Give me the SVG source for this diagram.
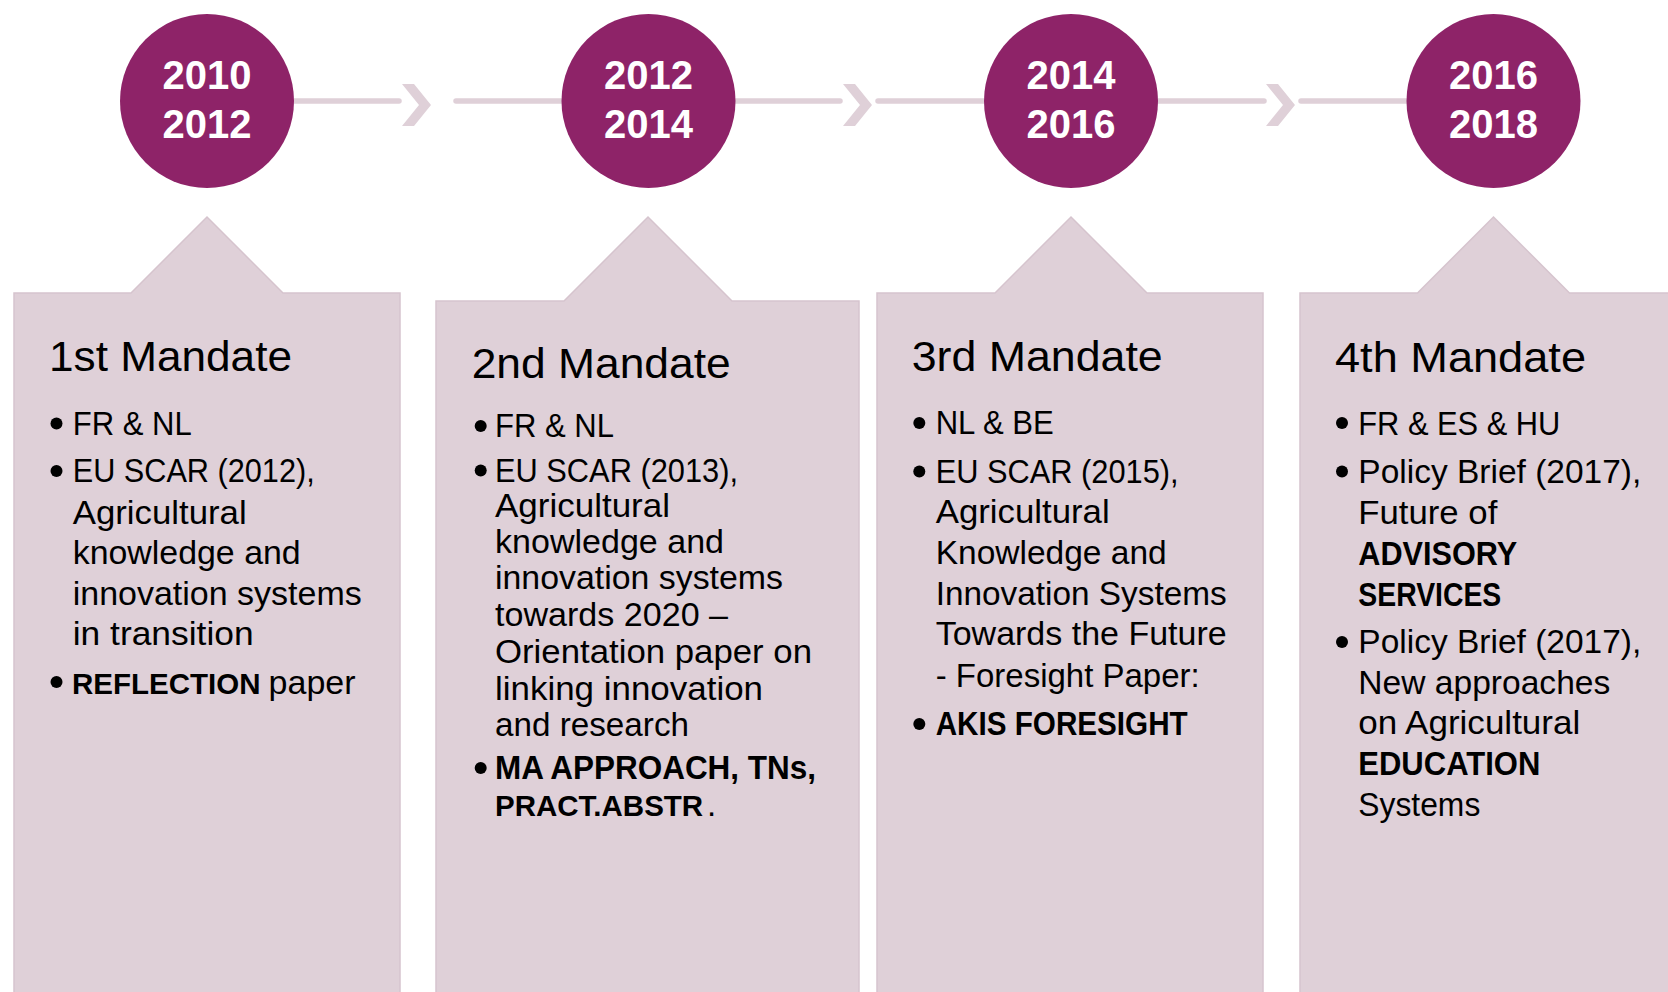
<svg xmlns="http://www.w3.org/2000/svg" width="1668" height="992" viewBox="0 0 1668 992">
  <style>
    .box { fill: #DFD0D8; stroke: #D6C4CE; stroke-width: 1.5; }
    .circle { fill: #8E2368; }
    .year { font-family: "Liberation Sans", Arial, sans-serif; font-weight: bold; font-size: 40px; fill: #FFFFFF; text-anchor: middle; }
    .head { font-family: "Liberation Sans", Arial, sans-serif; font-size: 42px; fill: #000000; }
    .t { font-family: "Liberation Sans", Arial, sans-serif; font-size: 33px; fill: #000000; }
    .b { font-weight: bold; }
    .bs { font-size: 29.5px; }
    .bullet { fill: #000000; }
    .line { stroke: #DFD0D8; stroke-width: 5.5; stroke-linecap: round; fill: none; }
    .chev { fill: #DFD0D8; }
  </style>
  <rect x="0" y="0" width="1668" height="992" fill="#FFFFFF"/>

  <g id="connectors">
    <line class="line" x1="294" y1="101" x2="399" y2="101"/>
    <polygon class="chev" points="402,84 414,84 431,105 414,126 402,126 419,105"/>
    <line class="line" x1="456" y1="101" x2="600" y2="101"/>
    <line class="line" x1="700" y1="101" x2="840" y2="101"/>
    <polygon class="chev" points="843,84 855,84 872,105 855,126 843,126 860,105"/>
    <line class="line" x1="878" y1="101" x2="1020" y2="101"/>
    <line class="line" x1="1120" y1="101" x2="1264" y2="101"/>
    <polygon class="chev" points="1266,84 1278,84 1295,105 1278,126 1266,126 1283,105"/>
    <line class="line" x1="1301" y1="101" x2="1440" y2="101"/>
  </g>

  <g id="year-2010-2012">
    <circle class="circle" cx="207" cy="101" r="87"/>
    <text class="year" x="207" y="89">2010</text>
    <text class="year" x="207" y="138">2012</text>
  </g>
  <g id="year-2012-2014">
    <circle class="circle" cx="648.5" cy="101" r="87"/>
    <text class="year" x="648.5" y="89">2012</text>
    <text class="year" x="648.5" y="138">2014</text>
  </g>
  <g id="year-2014-2016">
    <circle class="circle" cx="1071" cy="101" r="87"/>
    <text class="year" x="1071" y="89">2014</text>
    <text class="year" x="1071" y="138">2016</text>
  </g>
  <g id="year-2016-2018">
    <circle class="circle" cx="1493.5" cy="101" r="87"/>
    <text class="year" x="1493.5" y="89">2016</text>
    <text class="year" x="1493.5" y="138">2018</text>
  </g>

  <g id="mandate-1">
    <path class="box" d="M14,996 V293 H131 L207,217 L283,293 H400 V996 Z"/>
    <text class="head" x="49" y="371" textLength="243" lengthAdjust="spacingAndGlyphs">1st Mandate</text>
    <circle class="bullet" cx="56.5" cy="423.5" r="6"/>
    <circle class="bullet" cx="56.5" cy="471" r="6"/>
    <circle class="bullet" cx="56.5" cy="682" r="6"/>
    <text class="t" x="72.7" y="435" textLength="119" lengthAdjust="spacingAndGlyphs">FR &amp; NL</text>
    <text class="t" x="72.7" y="482.3" textLength="242" lengthAdjust="spacingAndGlyphs">EU SCAR (2012),</text>
    <text class="t" x="72.7" y="523.8" textLength="174" lengthAdjust="spacingAndGlyphs">Agricultural</text>
    <text class="t" x="72.7" y="564.2" textLength="228" lengthAdjust="spacingAndGlyphs">knowledge and</text>
    <text class="t" x="72.7" y="605" textLength="289" lengthAdjust="spacingAndGlyphs">innovation systems</text>
    <text class="t" x="72.7" y="645.3" textLength="181" lengthAdjust="spacingAndGlyphs">in transition</text>
    <text class="t b bs" x="72" y="693.6">REFLECTION</text>
    <text class="t" x="268.6" y="693.6" textLength="87" lengthAdjust="spacingAndGlyphs">paper</text>
  </g>

  <g id="mandate-2">
    <path class="box" d="M436,996 V301 H564 L648,217 L732,301 H859 V996 Z"/>
    <text class="head" x="471.7" y="378.3" textLength="259" lengthAdjust="spacingAndGlyphs">2nd Mandate</text>
    <circle class="bullet" cx="480.7" cy="426" r="6"/>
    <circle class="bullet" cx="480.7" cy="470.5" r="6"/>
    <circle class="bullet" cx="480.7" cy="768" r="6"/>
    <text class="t" x="495" y="437.3" textLength="119" lengthAdjust="spacingAndGlyphs">FR &amp; NL</text>
    <text class="t" x="495" y="481.7" textLength="243" lengthAdjust="spacingAndGlyphs">EU SCAR (2013),</text>
    <text class="t" x="495" y="517.3" textLength="175" lengthAdjust="spacingAndGlyphs">Agricultural</text>
    <text class="t" x="495" y="553.3" textLength="229" lengthAdjust="spacingAndGlyphs">knowledge and</text>
    <text class="t" x="495" y="589.3" textLength="288" lengthAdjust="spacingAndGlyphs">innovation systems</text>
    <text class="t" x="495" y="626" textLength="233" lengthAdjust="spacingAndGlyphs">towards 2020 –</text>
    <text class="t" x="495" y="662.7" textLength="317" lengthAdjust="spacingAndGlyphs">Orientation paper on</text>
    <text class="t" x="495" y="700" textLength="268" lengthAdjust="spacingAndGlyphs">linking innovation</text>
    <text class="t" x="495" y="736" textLength="194" lengthAdjust="spacingAndGlyphs">and research</text>
    <text class="t b" x="495" y="779.3" textLength="321" lengthAdjust="spacingAndGlyphs">MA APPROACH, TNs,</text>
    <text class="t b bs" x="495" y="816">PRACT.ABSTR</text>
    <text class="t" x="707" y="816">.</text>
  </g>

  <g id="mandate-3">
    <path class="box" d="M877,996 V293 H995 L1071,217 L1147,293 H1263 V996 Z"/>
    <text class="head" x="911.7" y="370.7" textLength="251" lengthAdjust="spacingAndGlyphs">3rd Mandate</text>
    <circle class="bullet" cx="919.3" cy="423" r="6"/>
    <circle class="bullet" cx="919.3" cy="471.5" r="6"/>
    <circle class="bullet" cx="919.3" cy="724" r="6"/>
    <text class="t" x="935.7" y="434" textLength="118" lengthAdjust="spacingAndGlyphs">NL &amp; BE</text>
    <text class="t" x="935.7" y="482.8" textLength="243" lengthAdjust="spacingAndGlyphs">EU SCAR (2015),</text>
    <text class="t" x="935.7" y="522.7" textLength="174" lengthAdjust="spacingAndGlyphs">Agricultural</text>
    <text class="t" x="935.7" y="564" textLength="231" lengthAdjust="spacingAndGlyphs">Knowledge and</text>
    <text class="t" x="935.7" y="605" textLength="291" lengthAdjust="spacingAndGlyphs">Innovation Systems</text>
    <text class="t" x="935.7" y="645" textLength="291" lengthAdjust="spacingAndGlyphs">Towards the Future</text>
    <text class="t" x="935.7" y="686.7" textLength="264" lengthAdjust="spacingAndGlyphs">- Foresight Paper:</text>
    <text class="t b" x="935.7" y="735" textLength="252" lengthAdjust="spacingAndGlyphs">AKIS FORESIGHT</text>
  </g>

  <g id="mandate-4">
    <path class="box" d="M1300,996 V293 H1417.5 L1493.5,217 L1569.5,293 H1676 V996 Z"/>
    <text class="head" x="1335" y="371.7" textLength="251" lengthAdjust="spacingAndGlyphs">4th Mandate</text>
    <circle class="bullet" cx="1342" cy="423" r="6"/>
    <circle class="bullet" cx="1342" cy="471.5" r="6"/>
    <circle class="bullet" cx="1342" cy="642" r="6"/>
    <text class="t" x="1358.3" y="434.5" textLength="202" lengthAdjust="spacingAndGlyphs">FR &amp; ES &amp; HU</text>
    <text class="t" x="1358.3" y="483" textLength="283" lengthAdjust="spacingAndGlyphs">Policy Brief (2017),</text>
    <text class="t" x="1358.3" y="523.5" textLength="139" lengthAdjust="spacingAndGlyphs">Future of</text>
    <text class="t b" x="1358.3" y="564.8" textLength="159" lengthAdjust="spacingAndGlyphs">ADVISORY</text>
    <text class="t b" x="1358.3" y="605.5" textLength="143" lengthAdjust="spacingAndGlyphs">SERVICES</text>
    <text class="t" x="1358.3" y="653.3" textLength="283" lengthAdjust="spacingAndGlyphs">Policy Brief (2017),</text>
    <text class="t" x="1358.3" y="693.5" textLength="252" lengthAdjust="spacingAndGlyphs">New approaches</text>
    <text class="t" x="1358.3" y="734.3" textLength="222" lengthAdjust="spacingAndGlyphs">on Agricultural</text>
    <text class="t b" x="1358.3" y="775.2" textLength="182" lengthAdjust="spacingAndGlyphs">EDUCATION</text>
    <text class="t" x="1358.3" y="816.3" textLength="122" lengthAdjust="spacingAndGlyphs">Systems</text>
  </g>
</svg>
